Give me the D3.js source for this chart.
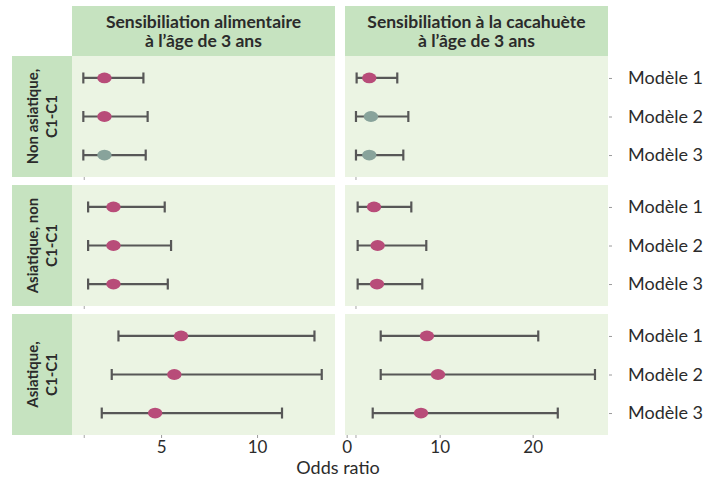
<!DOCTYPE html>
<html>
<head>
<meta charset="utf-8">
<script src="https://cdn.jsdelivr.net/npm/d3@7"></script>
<style>
  body { margin: 0; background: #fff; }
  text { font-family: Lato, "Open Sans", sans-serif; fill: #2b2b2b; }
</style>
</head>
<body>
<svg width="720" height="479"></svg>
<script>
// data
var groups = [["Non asiatique,", "C1-C1"], ["Asiatique, non", "C1-C1"], ["Asiatique,", "C1-C1"]];
var outcomes = [["Sensibiliation alimentaire", "à l’âge de 3 ans"], ["Sensibiliation à la cacahuète", "à l’âge de 3 ans"]];
var models = ["Modèle 1", "Modèle 2", "Modèle 3"];

// food sensitisation: [group][model]
var foodEst  = [[2.05, 2.05, 2.05], [2.52, 2.52, 2.52], [6.04, 5.69, 4.69]];
var foodLow  = [[0.95, 0.95, 0.95], [1.2, 1.2, 1.2], [2.78, 2.43, 1.91]];
var foodHigh = [[4.08, 4.3, 4.2], [5.19, 5.52, 5.35], [12.99, 13.37, 11.3]];
var foodSig  = [[1, 1, 0], [1, 1, 1], [1, 1, 1]];

// peanut sensitisation
var peanutEst  = [[2.43, 2.61, 2.43], [2.94, 3.33, 3.26], [8.63, 9.82, 7.99]];
var peanutLow  = [[1.07, 1.0, 1.0], [1.18, 1.18, 1.18], [3.66, 3.66, 2.8]];
var peanutHigh = [[5.44, 6.63, 6.09], [6.95, 8.56, 8.13], [20.6, 26.7, 22.7]];
var peanutSig  = [[1, 0, 0], [1, 1, 1], [1, 1, 1]];

var xTicks = [[5, 10], [0, 10, 20]];
var xDomains = [[0.36, 14.06], [-0.18, 28.1]];

var svg = d3.select("svg");

var stripX = [12, 72];
var panelX = [[72, 335], [345, 608]];
var headTop = 6, headBot = 56;
var rowTop = 56, rowH = 121, rowGap = 8;

var stripFill = "#c6e3c0", panelFill = "#ebf4e3";
var sigCol = "#b84c79", nsCol = "#88a39b";

var y = d3.scalePoint().domain(models).range([0, rowH]).padding(0.57);

var xs = xDomains.map(function (d, i) {
  return d3.scaleLinear().domain(d).range(panelX[i]);
});

var panels = [
  {est: foodEst, low: foodLow, high: foodHigh, sig: foodSig},
  {est: peanutEst, low: peanutLow, high: peanutHigh, sig: peanutSig}
];

// column headers
outcomes.forEach(function (lines, c) {
  svg.append("rect")
    .attr("x", panelX[c][0]).attr("y", headTop)
    .attr("width", panelX[c][1] - panelX[c][0]).attr("height", headBot - headTop)
    .attr("fill", stripFill);
  var t = svg.append("text")
    .attr("text-anchor", "middle")
    .style("font-weight", "bold")
    .style("font-size", "17.5px");
  lines.forEach(function (l, k) {
    t.append("tspan")
      .attr("x", (panelX[c][0] + panelX[c][1]) / 2)
      .attr("y", 28 + k * 19)
      .text(l);
  });
});

groups.forEach(function (lines, r) {
  var top = rowTop + r * (rowH + rowGap);

  // row strip
  svg.append("rect")
    .attr("x", stripX[0]).attr("y", top)
    .attr("width", stripX[1] - stripX[0]).attr("height", rowH)
    .attr("fill", stripFill);
  var cx = (stripX[0] + stripX[1]) / 2, cy = top + rowH / 2;
  var st = svg.append("text")
    .attr("transform", "translate(" + cx + "," + cy + ") rotate(-90)")
    .attr("text-anchor", "middle")
    .style("font-weight", "bold")
    .style("font-size", "15px");
  lines.forEach(function (l, k) {
    st.append("tspan").attr("x", 0).attr("y", -4 + k * 19).text(l);
  });

  panels.forEach(function (p, c) {
    var x = xs[c];
    var g = svg.append("g").attr("transform", "translate(0," + top + ")");
    g.append("rect")
      .attr("x", panelX[c][0]).attr("y", 0)
      .attr("width", panelX[c][1] - panelX[c][0]).attr("height", rowH)
      .attr("fill", panelFill);

    // faint tick at OR = 1 under each panel
    g.append("line")
      .attr("x1", x(1)).attr("x2", x(1))
      .attr("y1", rowH).attr("y2", rowH + 3)
      .attr("stroke", "#b5b5b5").attr("stroke-width", 1.2);

    var rows = models.map(function (m, i) {
      return {m: m, est: p.est[r][i], low: p.low[r][i], high: p.high[r][i], sig: p.sig[r][i]};
    });

    var bar = g.selectAll(".bar").data(rows).enter().append("g").attr("class", "bar");
    bar.append("line")
      .attr("x1", function (d) { return x(d.low); })
      .attr("x2", function (d) { return x(d.high); })
      .attr("y1", function (d) { return y(d.m); })
      .attr("y2", function (d) { return y(d.m); })
      .attr("stroke", "#575757").attr("stroke-width", 2.2);
    [["low"], ["high"]].forEach(function (k) {
      bar.append("line")
        .attr("x1", function (d) { return x(d[k[0]]); })
        .attr("x2", function (d) { return x(d[k[0]]); })
        .attr("y1", function (d) { return y(d.m) - 5.5; })
        .attr("y2", function (d) { return y(d.m) + 5.5; })
        .attr("stroke", "#575757").attr("stroke-width", 2.2);
    });
    bar.append("ellipse")
      .attr("cx", function (d) { return x(d.est); })
      .attr("cy", function (d) { return y(d.m); })
      .attr("rx", 7.2).attr("ry", 5.4)
      .attr("fill", function (d) { return d.sig ? sigCol : nsCol; });

    // model labels on the right
    if (c == 1) {
      var ay = g.append("g")
        .attr("transform", "translate(" + (panelX[1][1] + 1) + ",0)")
        .call(d3.axisRight(y).tickSize(3).tickPadding(16));
      ay.select(".domain").remove();
      ay.selectAll("line").attr("stroke", "#9a9a9a");
      ay.selectAll("text")
        .style("font-size", "18px")
        .style("font-family", "Lato, sans-serif")
        .attr("fill", "#2b2b2b");
    }
  });
});

// bottom axes
var bottom = rowTop + 3 * rowH + 2 * rowGap;
xs.forEach(function (x, c) {
  var ax = svg.append("g")
    .attr("transform", "translate(0," + bottom + ")")
    .call(d3.axisBottom(x).tickValues(xTicks[c]).tickSize(3).tickPadding(3));
  ax.select(".domain").remove();
  ax.selectAll("line").attr("stroke", "#9a9a9a");
  ax.selectAll("text")
    .style("font-size", "17px")
    .style("font-family", "Lato, sans-serif")
    .attr("fill", "#2b2b2b");
});

svg.append("text")
  .attr("x", 338).attr("y", 474)
  .attr("text-anchor", "middle")
  .style("font-size", "18px")
  .text("Odds ratio");
</script>
</body>
</html>
